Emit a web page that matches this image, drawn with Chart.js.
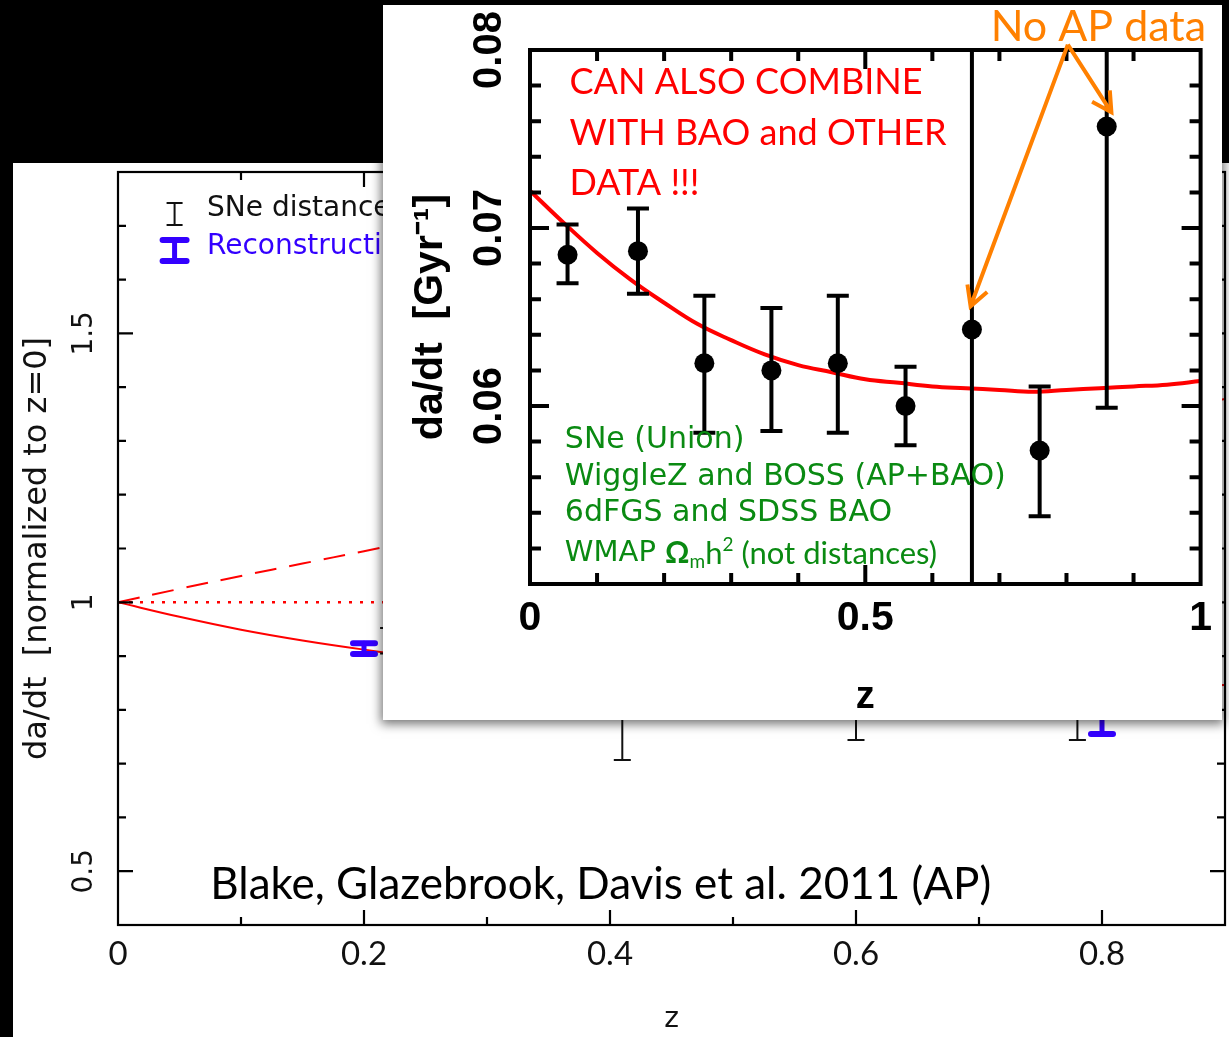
<!DOCTYPE html>
<html>
<head>
<meta charset="utf-8">
<script src="https://cdn.jsdelivr.net/npm/chart.js@4.4.1/dist/chart.umd.min.js"></script>
<style>
html, body { margin: 0; padding: 0; background: #000; }
body { width: 1229px; height: 1037px; position: relative; overflow: hidden; }
#back { position: absolute; left: 13px; top: 163px; background: #fff; }
#inset { position: absolute; left: 383px; top: 5px; background: #fff; box-shadow: 0 2px 10px 2px rgba(0,0,0,0.55); }
</style>
</head>
<body>
<canvas id="back" width="1216" height="874"></canvas>
<canvas id="inset" width="839" height="715"></canvas>
<script>
// ---- back panel: da/dt normalised to z=0 ----
const modelZ = [0, 0.05, 0.1, 0.15, 0.2, 0.25, 0.3, 0.4, 0.5, 0.6, 0.7, 0.8, 0.9];
const lcdmCurve = [1, 0.973, 0.949, 0.929, 0.912, 0.897, 0.886, 0.866, 0.853, 0.847, 0.844, 0.843, 0.846];
const edsCurve = [1, 1.025, 1.049, 1.072, 1.095, 1.118, 1.140, 1.183, 1.225, 1.265, 1.304, 1.342, 1.378];
const milneCurve = [1, 1, 1, 1, 1, 1, 1, 1, 1, 1, 1, 1, 1];

const sneZ = [0.22, 0.41, 0.6, 0.78];
const sneMid = [0.93, 0.86, 0.85, 0.845];
const sneLo = [0.905, 0.707, 0.744, 0.744];
const sneHi = [0.952, 1.0, 0.96, 0.95];

const recZ = [0.2, 0.4, 0.6, 0.8];
const recMid = [0.914, 0.87, 0.84, 0.81];
const recLo = [0.904, 0.84, 0.80, 0.755];
const recHi = [0.924, 0.90, 0.88, 0.87];

const backXTicks = [0, 0.2, 0.4, 0.6, 0.8];
const backYTicks = [0.5, 1, 1.5];
const backXMinor = [0.1, 0.2, 0.3, 0.4, 0.5, 0.6, 0.7, 0.8];
const backYMinor = [0.5, 0.6, 0.7, 0.8, 0.9, 1, 1.1, 1.2, 1.3, 1.4, 1.5, 1.6, 1.7];

// ---- inset: da/dt in Gyr^-1 ----
const insetZ = [0.056, 0.161, 0.26, 0.36, 0.459, 0.56, 0.659, 0.76, 0.86];
const insetVal = [0.0685, 0.0687, 0.0624, 0.0620, 0.0624, 0.0600, 0.0643, 0.0575, 0.0757];
const insetLo = [0.0669, 0.0663, 0.0585, 0.0586, 0.0585, 0.0578, 0.040, 0.0538, 0.0599];
const insetHi = [0.0702, 0.0711, 0.0662, 0.0655, 0.0662, 0.0622, 0.090, 0.0611, 0.090];

const fitZ = [0, 0.05, 0.1, 0.15, 0.2, 0.25, 0.3, 0.35, 0.4, 0.45, 0.5, 0.55, 0.6, 0.65, 0.7, 0.75, 0.8, 0.85, 0.9, 0.95, 1];
const fitVal = [0.0721, 0.0703, 0.0686, 0.0671, 0.0658, 0.0646, 0.0637, 0.0629, 0.0623, 0.0619, 0.0615,
                0.0613, 0.0611, 0.0610, 0.0609, 0.0608, 0.0609, 0.0610, 0.0611, 0.0612, 0.0614];

const insetXTicks = [0, 0.5, 1];
const insetYTicks = [0.06, 0.07, 0.08];
const insetXMinor = [0.1, 0.2, 0.3, 0.4, 0.5, 0.6, 0.7, 0.8, 0.9];
const insetYMinor = [0.052, 0.054, 0.056, 0.058, 0.06, 0.062, 0.064, 0.066, 0.068, 0.07,
                     0.072, 0.074, 0.076, 0.078];

const RED = '#ff0000';
const BLUE = '#3300ff';
const GREEN = '#0a8a12';
const ORANGE = '#ff8000';

const xy = (xs, ys) => xs.map((v, i) => ({ x: v, y: ys[i] }));

// box round the plot with inward ticks on all four sides
function frameTicks(cfg) {
    return {
        id: 'frameTicks',
        afterDraw(chart) {
            const { ctx, chartArea: a, scales: { x, y } } = chart;
            const isMajor = (v, m) => Math.abs(v / m - Math.round(v / m)) < 1e-6;
            ctx.save();
            ctx.strokeStyle = '#000';
            ctx.lineWidth = cfg.width;
            ctx.beginPath();
            cfg.xMinor.forEach(v => {
                const p = x.getPixelForValue(v);
                const len = isMajor(v, cfg.xMajor) ? cfg.major : cfg.minor;
                ctx.moveTo(p, a.bottom); ctx.lineTo(p, a.bottom - len);
                ctx.moveTo(p, a.top); ctx.lineTo(p, a.top + len);
            });
            cfg.yMinor.forEach(v => {
                const p = y.getPixelForValue(v);
                const len = isMajor(v, cfg.yMajor) ? cfg.major : cfg.minor;
                ctx.moveTo(a.left, p); ctx.lineTo(a.left + len, p);
                ctx.moveTo(a.right, p); ctx.lineTo(a.right - len, p);
            });
            ctx.stroke();
            ctx.strokeRect(a.left, a.top, a.right - a.left, a.bottom - a.top);
            ctx.restore();
        }
    };
}

// vertical error bars with caps, clipped to the plot
const errorBars = {
    id: 'errorBars',
    afterDatasetsDraw(chart) {
        const { ctx, chartArea: a, scales: { x, y } } = chart;
        ctx.save();
        ctx.beginPath();
        ctx.rect(a.left, a.top, a.right - a.left, a.bottom - a.top);
        ctx.clip();
        chart.data.datasets.forEach(ds => {
            const e = ds.err;
            if (!e) return;
            ctx.strokeStyle = e.color;
            ctx.lineCap = e.cap || 'butt';
            ds.data.forEach((p, i) => {
                const px = x.getPixelForValue(p.x);
                const lo = y.getPixelForValue(e.lo[i]);
                const hi = y.getPixelForValue(e.hi[i]);
                ctx.lineWidth = e.width;
                ctx.beginPath();
                ctx.moveTo(px, lo); ctx.lineTo(px, hi);
                ctx.stroke();
                ctx.lineWidth = e.capWidth || e.width;
                ctx.beginPath();
                ctx.moveTo(px - e.half, lo); ctx.lineTo(px + e.half, lo);
                ctx.moveTo(px - e.half, hi); ctx.lineTo(px + e.half, hi);
                ctx.stroke();
            });
        });
        ctx.restore();
    }
};

function notes(draw) {
    return { id: 'notes', afterDraw(chart) { chart.ctx.save(); draw(chart); chart.ctx.restore(); } };
}

function glyphI(ctx, px, py, half, h, color, width, capWidth, cap) {
    ctx.strokeStyle = color;
    ctx.lineCap = cap;
    ctx.lineWidth = width;
    ctx.beginPath();
    ctx.moveTo(px, py - h / 2); ctx.lineTo(px, py + h / 2);
    ctx.stroke();
    ctx.lineWidth = capWidth;
    ctx.beginPath();
    ctx.moveTo(px - half, py - h / 2); ctx.lineTo(px + half, py - h / 2);
    ctx.moveTo(px - half, py + h / 2); ctx.lineTo(px + half, py + h / 2);
    ctx.stroke();
}

function arrow(ctx, x0, y0, x1, y1) {
    const ang = Math.atan2(y1 - y0, x1 - x0);
    const L = 22, spread = 0.5;
    ctx.beginPath();
    ctx.moveTo(x0, y0); ctx.lineTo(x1, y1);
    ctx.moveTo(x1 - L * Math.cos(ang - spread), y1 - L * Math.sin(ang - spread));
    ctx.lineTo(x1, y1);
    ctx.lineTo(x1 - L * Math.cos(ang + spread), y1 - L * Math.sin(ang + spread));
    ctx.stroke();
}

// rotated y labels make Chart.js reserve room above/below the axis; drop it
function fixWidth(w) {
    return s => { s.width = w; s.paddingTop = 0; s.paddingBottom = 0; };
}

Chart.defaults.font.family = "'DejaVu Sans'";
Chart.defaults.color = '#000';

// ---------- back panel ----------
new Chart(document.getElementById('back'), {
    type: 'scatter',
    data: {
        datasets: [
            { label: 'LCDM', data: xy(modelZ, lcdmCurve), showLine: true, borderColor: RED, borderWidth: 2,
              pointRadius: 0, tension: 0.4 },
            { label: 'decelerating', data: xy(modelZ, edsCurve), showLine: true, borderColor: RED, borderWidth: 2,
              borderDash: [22, 13], pointRadius: 0, tension: 0.4 },
            { label: 'coasting', data: xy(modelZ, milneCurve), showLine: true, borderColor: RED, borderWidth: 2.5,
              borderDash: [3, 8], pointRadius: 0 },
            { label: 'SNe distances', data: xy(sneZ, sneMid), pointRadius: 0,
              err: { lo: sneLo, hi: sneHi, color: '#111', width: 2, half: 8.5 } },
            { label: 'Reconstruction', data: xy(recZ, recMid), pointRadius: 0,
              err: { lo: recLo, hi: recHi, color: BLUE, width: 5, capWidth: 6, half: 11, cap: 'round' } }
        ]
    },
    options: {
        responsive: false,
        animation: false,
        devicePixelRatio: 1,
        layout: { padding: { top: 9, right: 4, left: 0, bottom: 0 } },
        plugins: { legend: { display: false }, tooltip: { enabled: false } },
        scales: {
            x: {
                type: 'linear', min: 0, max: 0.9,
                afterBuildTicks: s => { s.ticks = backXTicks.map(v => ({ value: v })); },
                afterFit: s => { s.height = 112; },
                grid: { display: false, drawTicks: false },
                border: { display: false },
                ticks: { font: { family: 'Lato', size: 33 }, color: '#111', padding: 10, autoSkip: false,
                         maxRotation: 0, callback: v => String(v) },
                title: { display: true, text: 'z', font: { size: 28 }, color: '#111', padding: 0 }
            },
            y: {
                type: 'linear', min: 0.4, max: 1.8,
                afterBuildTicks: s => { s.ticks = backYTicks.map(v => ({ value: v })); },
                afterFit: fixWidth(105),
                grid: { display: false, drawTicks: false },
                border: { display: false },
                ticks: { font: { size: 28 }, color: '#111', padding: 11, autoSkip: false,
                         minRotation: 90, maxRotation: 90, crossAlign: 'center', callback: v => String(v) },
                title: { display: true, text: 'da/dt  [normalized to z=0]', font: { size: 32 }, color: '#111',
                         padding: { top: 5, bottom: 0 } }
            }
        }
    },
    plugins: [
        frameTicks({ xMinor: backXMinor, yMinor: backYMinor, xMajor: 0.2, yMajor: 0.5, minor: 8, major: 15, width: 2.2 }),
        errorBars,
        notes(chart => {
            const { ctx, scales: { x, y } } = chart;
            glyphI(ctx, x.getPixelForValue(0.046), y.getPixelForValue(1.722), 8, 22, '#111', 2, 2, 'butt');
            glyphI(ctx, x.getPixelForValue(0.046), y.getPixelForValue(1.654), 12, 21, BLUE, 5, 6, 'round');
            ctx.textBaseline = 'middle';
            ctx.textAlign = 'left';
            ctx.font = "28px 'DejaVu Sans'";
            ctx.fillStyle = '#111';
            ctx.fillText('SNe distances', x.getPixelForValue(0.0724), y.getPixelForValue(1.732));
            ctx.fillStyle = BLUE;
            ctx.fillText('Reconstruction', x.getPixelForValue(0.0724), y.getPixelForValue(1.662));
            ctx.font = '44px Lato';
            ctx.fillStyle = '#000';
            ctx.fillText('Blake, Glazebrook, Davis et al. 2011 (AP)', x.getPixelForValue(0.075), y.getPixelForValue(0.474));
        })
    ]
});

// ---------- inset ----------
new Chart(document.getElementById('inset'), {
    type: 'scatter',
    data: {
        datasets: [
            { label: 'fit', data: xy(fitZ, fitVal), showLine: true, borderColor: RED, borderWidth: 4,
              pointRadius: 0, tension: 0.4, order: 2 },
            { label: 'da/dt', data: xy(insetZ, insetVal), pointRadius: 10, pointBackgroundColor: '#000',
              pointBorderWidth: 0, order: 1,
              err: { lo: insetLo, hi: insetHi, color: '#000', width: 4, half: 11 } }
        ]
    },
    options: {
        responsive: false,
        animation: false,
        devicePixelRatio: 1,
        layout: { padding: { top: 45, right: 15, left: 0, bottom: 0 } },
        plugins: { legend: { display: false }, tooltip: { enabled: false } },
        scales: {
            x: {
                type: 'linear', min: 0, max: 1,
                afterBuildTicks: s => { s.ticks = insetXTicks.map(v => ({ value: v })); },
                afterFit: s => { s.height = 136; },
                grid: { display: false, drawTicks: false },
                border: { display: false },
                ticks: { font: { family: "'Liberation Sans'", size: 41, weight: 'bold' }, color: '#000', padding: 10,
                         autoSkip: false, maxRotation: 0, callback: v => String(v) },
                title: { display: true, text: 'z', font: { family: "'Liberation Sans'", size: 38, weight: 'bold' },
                         color: '#000', padding: 0 }
            },
            y: {
                type: 'linear', min: 0.05, max: 0.08,
                afterBuildTicks: s => { s.ticks = insetYTicks.map(v => ({ value: v })); },
                afterFit: fixWidth(147),
                grid: { display: false, drawTicks: false },
                border: { display: false },
                ticks: { font: { family: "'Liberation Sans'", size: 40, weight: 'bold' }, color: '#000', padding: 1,
                         autoSkip: false, minRotation: 90, maxRotation: 90, crossAlign: 'center',
                         callback: v => v.toFixed(2) },
                title: { display: true, text: 'da/dt  [Gyr⁻¹]', font: { family: "'Liberation Sans'", size: 41, weight: 'bold' },
                         color: '#000', padding: { top: 23, bottom: 0 } }
            }
        }
    },
    plugins: [
        errorBars,
        frameTicks({ xMinor: insetXMinor, yMinor: insetYMinor, xMajor: 0.5, yMajor: 0.01, minor: 11, major: 19, width: 4 }),
        notes(chart => {
            const { ctx, scales: { x, y } } = chart;
            ctx.textBaseline = 'middle';
            ctx.textAlign = 'left';
            ctx.font = '36px Lato';
            ctx.fillStyle = RED;
            ctx.fillText('CAN ALSO COMBINE', x.getPixelForValue(0.059), y.getPixelForValue(0.0782));
            ctx.fillText('WITH BAO and OTHER', x.getPixelForValue(0.059), y.getPixelForValue(0.0753));
            ctx.fillText('DATA !!!', x.getPixelForValue(0.059), y.getPixelForValue(0.0725));

            ctx.fillStyle = GREEN;
            ctx.font = "30px 'DejaVu Sans'";
            const gx = x.getPixelForValue(0.052);
            ctx.fillText('SNe (Union)', gx, y.getPixelForValue(0.0581));
            ctx.fillText('WiggleZ and BOSS (AP+BAO)', gx, y.getPixelForValue(0.0560));
            ctx.fillText('6dFGS and SDSS BAO', gx, y.getPixelForValue(0.0540));
            // WMAP Omega_m h^2 line, drawn piece by piece
            const wy = y.getPixelForValue(0.0517);
            let cx = gx;
            const part = (txt, font, dy) => { ctx.font = font; ctx.fillText(txt, cx, wy + dy); cx += ctx.measureText(txt).width; };
            part('WMAP ', "29px 'DejaVu Sans'", 0);
            part('Ω', "bold 30px Lato", 0);
            part('m', "19px Lato", 8);
            part('h', "31px Lato", 0);
            part('2', "19px Lato", -9);
            part(' (not distances)', "31px Lato", 0);

            ctx.fillStyle = ORANGE;
            ctx.font = '43px Lato';
            ctx.fillText('No AP data', x.getPixelForValue(0.687), y.getPixelForValue(0.0813));
            ctx.strokeStyle = ORANGE;
            ctx.lineWidth = 4;
            ctx.lineCap = 'butt';
            ctx.lineJoin = 'miter';
            const sx = x.getPixelForValue(0.802), sy = y.getPixelForValue(0.0803);
            arrow(ctx, sx, sy, x.getPixelForValue(0.657), y.getPixelForValue(0.0656));
            arrow(ctx, sx, sy, x.getPixelForValue(0.867), y.getPixelForValue(0.0765));
        })
    ]
});
</script>
</body>
</html>
